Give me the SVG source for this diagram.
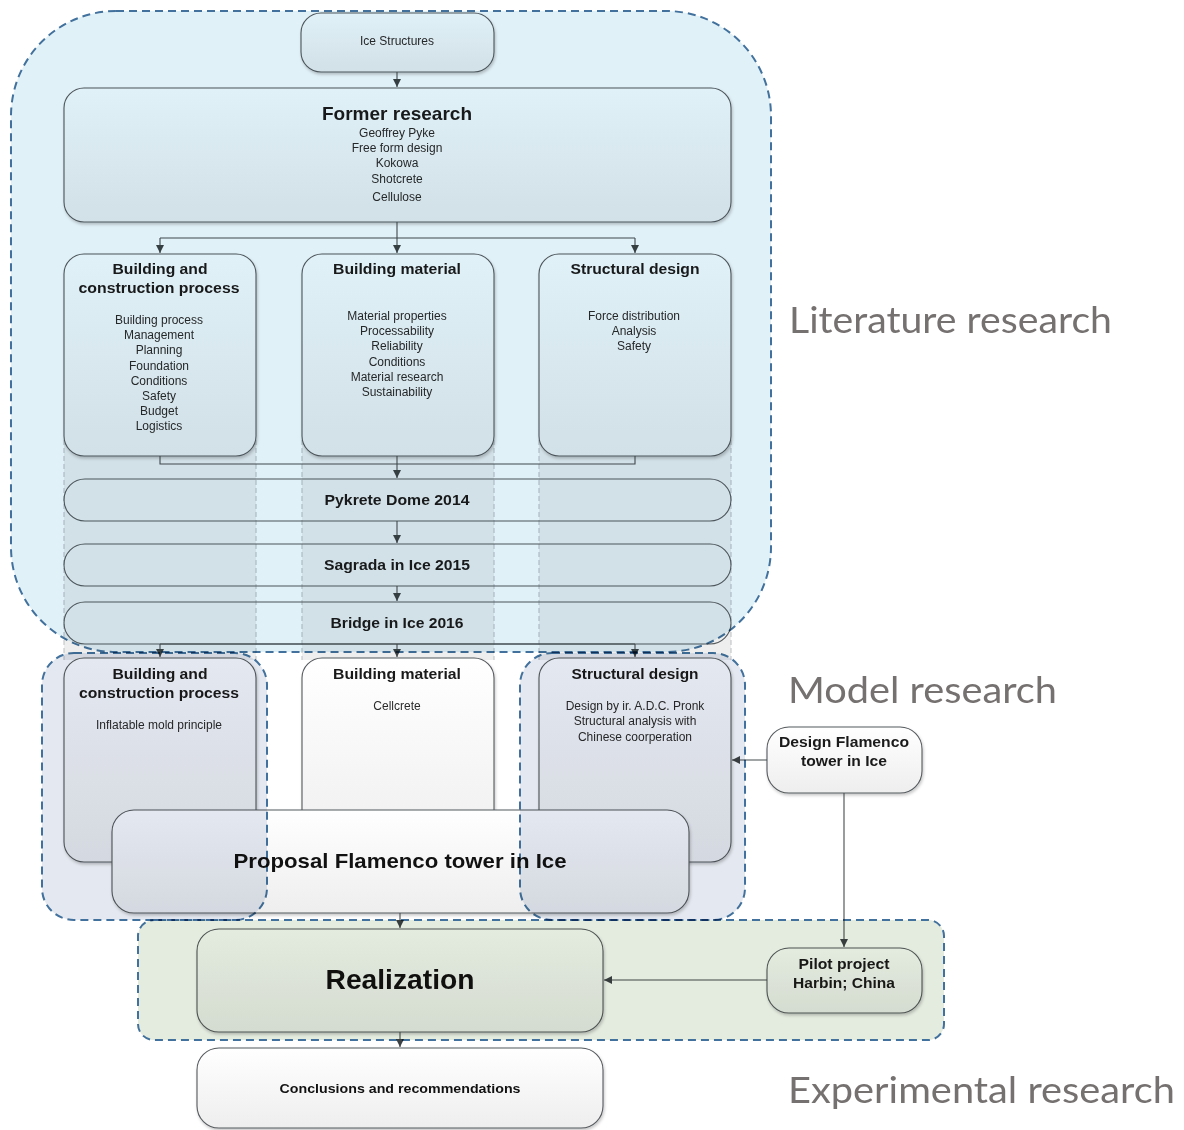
<svg xmlns="http://www.w3.org/2000/svg" width="1184" height="1130" viewBox="0 0 1184 1130">
  <defs>
    <linearGradient id="boxFill" x1="0" y1="0" x2="0" y2="1">
      <stop offset="0" stop-color="#ffffff"/>
      <stop offset="1" stop-color="#eeeeee"/>
    </linearGradient>
    <filter id="shadow" x="-10%" y="-10%" width="120%" height="130%">
      <feDropShadow dx="1" dy="2" stdDeviation="1.5" flood-color="#000" flood-opacity="0.22"/>
    </filter>
    <marker id="arrow" markerUnits="userSpaceOnUse" markerWidth="9" markerHeight="9" refX="8" refY="4" orient="auto">
      <path d="M0,0 L8,4 L0,8 z" fill="#3c4244"/>
    </marker>
    <style>
      .box { fill: url(#boxFill); stroke: #555a5d; stroke-width: 1.1; filter: url(#shadow); }
      .bar { fill: none; stroke: #555a5d; stroke-width: 1.1; }
      .col { fill: #000; fill-opacity: 0.065; }
      .coledge { stroke: #b9bdbf; stroke-width: 1; stroke-dasharray: 5 3; fill: none; }
      .conn { fill: none; stroke: #464c4e; stroke-width: 1.1; }
      .region { stroke: #41719c; stroke-width: 2; stroke-dasharray: 8 5; mix-blend-mode: multiply; }
      .lit { fill: #e1f1f8; }
      .mod { fill: #e4e8f0; }
      .exp { fill: #e4ebdf; }
      text { font-family: "Liberation Sans", Arial, sans-serif; text-anchor: middle; }
      .t { font-size: 12px; fill: #2a2a2a; }
      .h { font-size: 15px; font-weight: bold; fill: #1a1a1a; }
      .label { font-family: Lato, "Open Sans", sans-serif; font-size: 37px; fill: #767171; text-anchor: start; }
    </style>
  </defs>

  <!-- grey column bands behind the timeline bars -->
  <g id="columns">
    <rect class="col" x="64" y="440" width="192" height="220"/>
    <rect class="col" x="302" y="440" width="192" height="220"/>
    <rect class="col" x="539" y="440" width="192" height="220"/>
    <path class="coledge" d="M64,440 V660 M256,440 V660 M302,440 V660 M494,440 V660 M539,440 V660 M731,440 V660"/>
  </g>

  <g id="ice-structures">
    <rect class="box" x="301" y="13" width="193" height="59" rx="20"/>
    <text class="t" x="397" y="45">Ice Structures</text>
  </g>

  <g id="former-research">
    <rect class="box" x="64" y="88" width="667" height="134" rx="20"/>
    <text x="397" y="120" style="font-size:19px;font-weight:bold;fill:#1a1a1a" textLength="150" lengthAdjust="spacingAndGlyphs">Former research</text>
    <text class="t" x="397" y="137">Geoffrey Pyke</text>
    <text class="t" x="397" y="152">Free form design</text>
    <text class="t" x="397" y="167">Kokowa</text>
    <text class="t" x="397" y="183">Shotcrete</text>
    <text class="t" x="397" y="201">Cellulose</text>
  </g>

  <g id="lit-building-process">
    <rect class="box" x="64" y="254" width="192" height="202" rx="20"/>
    <text class="h" x="160" y="274" textLength="95" lengthAdjust="spacingAndGlyphs">Building and</text>
    <text class="h" x="159" y="293" textLength="161" lengthAdjust="spacingAndGlyphs">construction process</text>
    <text class="t" x="159" y="324">Building process</text>
    <text class="t" x="159" y="339">Management</text>
    <text class="t" x="159" y="354">Planning</text>
    <text class="t" x="159" y="370">Foundation</text>
    <text class="t" x="159" y="385">Conditions</text>
    <text class="t" x="159" y="400">Safety</text>
    <text class="t" x="159" y="415">Budget</text>
    <text class="t" x="159" y="430">Logistics</text>
  </g>

  <g id="lit-building-material">
    <rect class="box" x="302" y="254" width="192" height="202" rx="20"/>
    <text class="h" x="397" y="274" textLength="128" lengthAdjust="spacingAndGlyphs">Building material</text>
    <text class="t" x="397" y="320">Material properties</text>
    <text class="t" x="397" y="335">Processability</text>
    <text class="t" x="397" y="350">Reliability</text>
    <text class="t" x="397" y="366">Conditions</text>
    <text class="t" x="397" y="381">Material research</text>
    <text class="t" x="397" y="396">Sustainability</text>
  </g>

  <g id="lit-structural-design">
    <rect class="box" x="539" y="254" width="192" height="202" rx="20"/>
    <text class="h" x="635" y="274" textLength="129" lengthAdjust="spacingAndGlyphs">Structural design</text>
    <text class="t" x="634" y="320">Force distribution</text>
    <text class="t" x="634" y="335">Analysis</text>
    <text class="t" x="634" y="350">Safety</text>
  </g>

  <g id="pykrete-dome">
    <rect class="bar" x="64" y="479" width="667" height="42" rx="21"/>
    <text class="h" x="397" y="505" textLength="145" lengthAdjust="spacingAndGlyphs">Pykrete Dome 2014</text>
  </g>

  <g id="sagrada">
    <rect class="bar" x="64" y="544" width="667" height="42" rx="21"/>
    <text class="h" x="397" y="570" textLength="146" lengthAdjust="spacingAndGlyphs">Sagrada in Ice 2015</text>
  </g>

  <g id="bridge">
    <rect class="bar" x="64" y="602" width="667" height="42" rx="21"/>
    <text class="h" x="397" y="628" textLength="133" lengthAdjust="spacingAndGlyphs">Bridge in Ice 2016</text>
  </g>

  <g id="model-building-process">
    <rect class="box" x="64" y="658" width="192" height="204" rx="20"/>
    <text class="h" x="160" y="679" textLength="95" lengthAdjust="spacingAndGlyphs">Building and</text>
    <text class="h" x="159" y="698" textLength="160" lengthAdjust="spacingAndGlyphs">construction process</text>
    <text class="t" x="159" y="729">Inflatable mold principle</text>
  </g>

  <g id="model-building-material">
    <rect class="box" x="302" y="658" width="192" height="204" rx="20"/>
    <text class="h" x="397" y="679" textLength="128" lengthAdjust="spacingAndGlyphs">Building material</text>
    <text class="t" x="397" y="710">Cellcrete</text>
  </g>

  <g id="model-structural-design">
    <rect class="box" x="539" y="658" width="192" height="204" rx="20"/>
    <text class="h" x="635" y="679" textLength="127" lengthAdjust="spacingAndGlyphs">Structural design</text>
    <text class="t" x="635" y="710">Design by ir. A.D.C. Pronk</text>
    <text class="t" x="635" y="725">Structural analysis with</text>
    <text class="t" x="635" y="741">Chinese coorperation</text>
  </g>

  <g id="proposal">
    <rect class="box" x="112" y="810" width="577" height="103" rx="22"/>
    <text x="400" y="868" style="font-size:21px;font-weight:bold;fill:#111" textLength="333" lengthAdjust="spacingAndGlyphs">Proposal Flamenco tower in Ice</text>
  </g>

  <g id="design-flamenco">
    <rect class="box" x="767" y="727" width="155" height="66" rx="22"/>
    <text class="h" x="844" y="747" textLength="130" lengthAdjust="spacingAndGlyphs">Design Flamenco</text>
    <text class="h" x="844" y="766" textLength="86" lengthAdjust="spacingAndGlyphs">tower in Ice</text>
  </g>

  <g id="realization">
    <rect class="box" x="197" y="929" width="406" height="103" rx="22"/>
    <text x="400" y="989" style="font-size:28px;font-weight:bold;fill:#111" textLength="149" lengthAdjust="spacingAndGlyphs">Realization</text>
  </g>

  <g id="pilot-project">
    <rect class="box" x="767" y="948" width="155" height="65" rx="22"/>
    <text class="h" x="844" y="969" textLength="91" lengthAdjust="spacingAndGlyphs">Pilot project</text>
    <text class="h" x="844" y="988" textLength="102" lengthAdjust="spacingAndGlyphs">Harbin; China</text>
  </g>

  <g id="conclusions">
    <rect class="box" x="197" y="1048" width="406" height="80" rx="22"/>
    <text x="400" y="1093" style="font-size:13px;font-weight:bold;fill:#111" textLength="241" lengthAdjust="spacingAndGlyphs">Conclusions and recommendations</text>
  </g>

  <g id="connectors">
    <path class="conn" d="M397,72 V87" marker-end="url(#arrow)"/>
    <path class="conn" d="M397,222 V253" marker-end="url(#arrow)"/>
    <path class="conn" d="M160,238 H635"/>
    <path class="conn" d="M160,238 V253" marker-end="url(#arrow)"/>
    <path class="conn" d="M635,238 V253" marker-end="url(#arrow)"/>
    <path class="conn" d="M160,456 V464 H635 V456"/>
    <path class="conn" d="M397,456 V478" marker-end="url(#arrow)"/>
    <path class="conn" d="M397,521 V543" marker-end="url(#arrow)"/>
    <path class="conn" d="M397,586 V601" marker-end="url(#arrow)"/>
    <path class="conn" d="M160,644 H635"/>
    <path class="conn" d="M160,644 V657" marker-end="url(#arrow)"/>
    <path class="conn" d="M397,644 V657" marker-end="url(#arrow)"/>
    <path class="conn" d="M635,644 V657" marker-end="url(#arrow)"/>
    <path class="conn" d="M400,913 V928" marker-end="url(#arrow)"/>
    <path class="conn" d="M400,1032 V1047" marker-end="url(#arrow)"/>
    <path class="conn" d="M767,760 H732" marker-end="url(#arrow)"/>
    <path class="conn" d="M844,793 V947" marker-end="url(#arrow)"/>
    <path class="conn" d="M767,980 H604" marker-end="url(#arrow)"/>
  </g>

  <!-- research phase regions, multiplied over the content to tint it -->
  <g id="literature-region">
    <rect class="region lit" x="11" y="11" width="760" height="641" rx="105"/>
  </g>
  <g id="model-regions">
    <rect class="region mod" x="42" y="653" width="225" height="267" rx="32"/>
    <rect class="region mod" x="520" y="653" width="225" height="267" rx="32"/>
  </g>
  <g id="experimental-region">
    <rect class="region exp" x="138" y="920" width="806" height="120" rx="16"/>
  </g>

  <g id="phase-labels">
    <text class="label" x="789" y="333" textLength="323" lengthAdjust="spacingAndGlyphs">Literature research</text>
    <text class="label" x="788" y="703" textLength="269" lengthAdjust="spacingAndGlyphs">Model research</text>
    <text class="label" x="788" y="1103" textLength="387" lengthAdjust="spacingAndGlyphs">Experimental research</text>
  </g>
</svg>
